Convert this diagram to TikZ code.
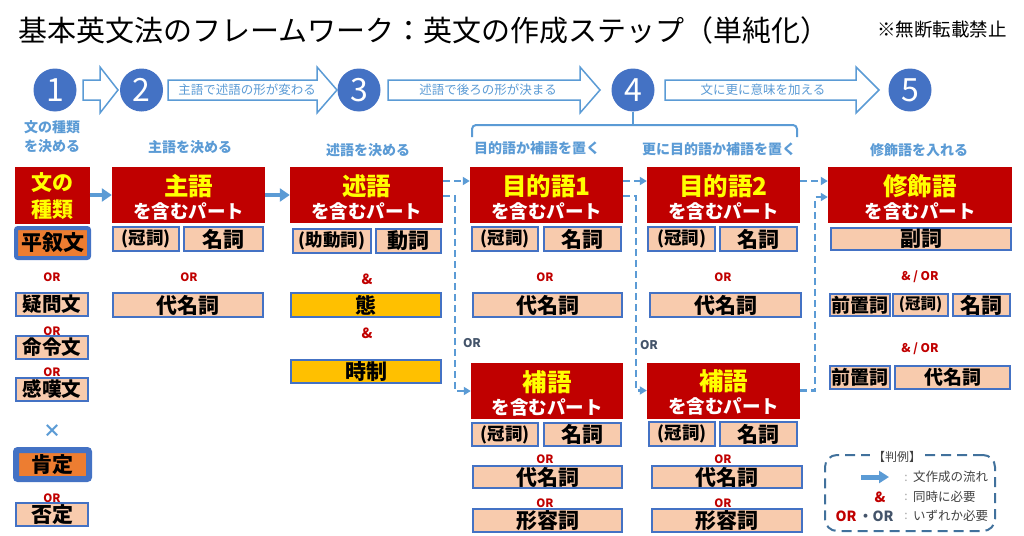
\documentclass[tikz,border=0pt]{standalone}
\usepackage{fontspec}
\setmainfont{Noto Sans CJK JP}
\usepackage{xcolor}
\usetikzlibrary{arrows.meta,calc}

\definecolor{hdred}{HTML}{C00000}
\definecolor{hdyellow}{HTML}{FFFF00}
\definecolor{peach}{HTML}{F8CBAD}
\definecolor{boxblue}{HTML}{4472C4}
\definecolor{lineblue}{HTML}{5B9BD5}
\definecolor{selorange}{HTML}{ED7D31}
\definecolor{gold}{HTML}{FFC000}
\definecolor{slate}{HTML}{44546A}
\definecolor{legblue}{HTML}{41719C}
\definecolor{legtext}{HTML}{404040}

\tikzset{
  hdbox/.style={fill=hdred, inner sep=0pt},
  hdtitle/.style={text=hdyellow, inner sep=0pt, font=\bfseries\fontsize{24.5}{24.5}\selectfont},
  hdsub/.style={text=white, inner sep=0pt, font=\bfseries\fontsize{18.5}{18.5}\selectfont},
  part/.style={fill=peach, draw=boxblue, line width=1.8pt, inner sep=0pt, font=\bfseries\fontsize{21}{21}\selectfont},
  artpart/.style={part, font=\bfseries\fontsize{17.5}{17.5}\selectfont},
  voice/.style={part, fill=gold},
  chosen/.style={part, fill=selorange, line width=4pt, rounded corners=2pt},
  orlbl/.style={text=hdred, inner sep=0pt, font=\bfseries\fontsize{11.5}{11.5}\selectfont},
  orgrey/.style={text=slate, inner sep=0pt, font=\bfseries\fontsize{12}{12}\selectfont},
  steplbl/.style={text=lineblue, inner sep=0pt, align=center, font=\bfseries\fontsize{14}{19}\selectfont},
  stepnum/.style={circle, fill=boxblue, text=white, inner sep=0pt, minimum size=43pt, font=\fontsize{32}{32}\selectfont},
  stepflow/.style={draw=lineblue, fill=white, line width=1.5pt, line join=miter},
  flowtxt/.style={text=lineblue, inner sep=0pt, font=\fontsize{12.5}{12.5}\selectfont},
  flow/.style={draw=lineblue, line width=4pt, -{Triangle[length=10pt,width=13pt]}},
  optflow/.style={draw=lineblue, line width=2.4pt, dash pattern=on 7pt off 4pt, -{Triangle[length=7pt,width=8pt]}},
  legtxt/.style={text=legtext, inner sep=0pt, anchor=west, font=\fontsize{12.5}{12.5}\selectfont},
  legcolon/.style={text=gray!70, inner sep=0pt, font=\fontsize{12}{12}\selectfont}
}

\begin{document}
\begin{tikzpicture}[x=1pt,y=-1pt]
\useasboundingbox (0,0) rectangle (1024,535);

% title
\node[anchor=west, inner sep=0pt, font=\fontsize{29}{29}\selectfont] (title) at (18,30) {基本英文法のフレームワーク：英文の作成ステップ（単純化）};
\node[inner sep=0pt, font=\fontsize{18.5}{18.5}\selectfont] (note) at (942,30) {※無断転載禁止};

% steps
\node[stepnum] (n1) at (55,90) {1};
\node[stepnum] (n2) at (141.5,90) {2};
\node[stepnum] (n3) at (359,90) {3};
\node[stepnum] (n4) at (633,90) {4};
\node[stepnum] (n5) at (910,90) {5};

\draw[stepflow] (83,80) -- (100,80) -- (100,67) -- (118,90) -- (100,113) -- (100,100) -- (83,100) -- cycle;
\draw[stepflow] (168,80) -- (317,80) -- (317,67) -- (337,90) -- (317,113) -- (317,100) -- (168,100) -- cycle;
\draw[stepflow] (388,80) -- (580,80) -- (580,67) -- (600,90) -- (580,113) -- (580,100) -- (388,100) -- cycle;
\draw[stepflow] (665,80) -- (856,80) -- (856,67) -- (879,90) -- (856,113) -- (856,100) -- (665,100) -- cycle;
\node[flowtxt] (f23) at (247,90) {主語で述語の形が変わる};
\node[flowtxt] (f34) at (488,90) {述語で後ろの形が決まる};
\node[flowtxt] (f45) at (763,90) {文に更に意味を加える};

% bracket under 4
\draw[lineblue, line width=2pt, rounded corners=4pt] (472,137) -- (472,125) -- (797,125) -- (797,137);
\draw[lineblue, line width=2pt] (n4.south) -- (n4.south |- 0,125);

% step labels
\node[steplbl] (l1) at (52,137) {文の種類\\を決める};
\node[steplbl] (l2) at (190,147) {主語を決める};
\node[steplbl] (l3) at (368,150) {述語を決める};
\node[steplbl] (l4) at (537,148) {目的語か補語を置く};
\node[steplbl] (l4b) at (719,149) {更に目的語か補語を置く};
\node[steplbl] (l5) at (919,150) {修飾語を入れる};

% red headers
\node[hdbox, minimum width=75pt, minimum height=57pt] (type) at (52,195) {};
\node[hdtitle, font=\bfseries\fontsize{21}{21}\selectfont] (type-t) at ([yshift=12pt]type.center) {文の};
\node[hdtitle, font=\bfseries\fontsize{21}{21}\selectfont] (type-s) at ([yshift=-15pt]type.center) {種類};
\foreach \nm/\cx/\cy/\w/\lbl in {subj/188.5/195/153/主語, pred/366.5/195/153/述語, obj1/546.5/195/153/目的語1, obj2/723.5/195/153/目的語2, comp1/547/391/152/補語, comp2/723.5/390.5/153/補語, mod/920/195/184/修飾語}{
  \node[hdbox, minimum width=\w, minimum height=56pt] (\nm) at (\cx,\cy) {};
  \node[hdtitle] (\nm-t) at ([yshift=9pt]\nm.center) {\lbl};
  \node[hdsub] (\nm-s) at ([yshift=-16pt]\nm.center) {を含むパート};
}

% sentence type
\node[chosen, minimum width=73pt, minimum height=30pt] (plain) at (52.5,243) {平叙文};
\node[orlbl] (or1) at (52,277) {OR};
\node[part, minimum width=72pt, minimum height=23pt, font=\bfseries\fontsize{19.5}{19.5}\selectfont] (quest) at (52,304.5) {疑問文};
\node[orlbl] (or2) at (52,331) {OR};
\node[part, minimum width=72pt, minimum height=23pt, font=\bfseries\fontsize{19.5}{19.5}\selectfont] (imper) at (52,347.5) {命令文};
\node[orlbl] (or3) at (52,372) {OR};
\node[part, minimum width=72pt, minimum height=23pt, font=\bfseries\fontsize{19.5}{19.5}\selectfont] (excl) at (52,389.5) {感嘆文};
\node[text=lineblue, inner sep=0pt, font=\bfseries\fontsize{18}{18}\selectfont] (cross) at (52,431) {×};
\node[chosen, line width=6pt, minimum width=73pt, minimum height=29pt] (affirm) at (52.5,464.5) {肯定};
\node[orlbl] (or4) at (52,498) {OR};
\node[part, minimum width=72pt, minimum height=23pt] (neg) at (52,514.5) {否定};

% subject
\node[artpart, minimum width=66pt, minimum height=24pt] (subj-a) at (146,239) {(冠詞)};
\node[part, minimum width=79pt, minimum height=24pt] (subj-n) at (223.5,239) {名詞};
\node[orlbl] (or5) at (189,277) {OR};
\node[part, minimum width=150pt, minimum height=24pt] (subj-p) at (188,305) {代名詞};

% predicate
\node[artpart, minimum width=78pt, minimum height=24pt] (pred-a) at (332,241) {(助動詞)};
\node[part, minimum width=65pt, minimum height=24pt] (pred-v) at (408.5,241) {動詞};
\node[orlbl, font=\bfseries\fontsize{14}{14}\selectfont] (and1) at (367,279) {\&};
\node[voice, minimum width=150pt, minimum height=24pt] (pred-vc) at (366,305) {態};
\node[orlbl, font=\bfseries\fontsize{14}{14}\selectfont] (and2) at (367,333) {\&};
\node[voice, minimum width=150pt, minimum height=23pt] (pred-t) at (366,371.5) {時制};

% objects
\node[artpart, minimum width=66pt, minimum height=24pt] (obj1-a) at (505,239) {(冠詞)};
\node[part, minimum width=77pt, minimum height=24pt] (obj1-n) at (582.5,239) {名詞};
\node[orlbl] (or6) at (545,277) {OR};
\node[part, minimum width=149pt, minimum height=24pt] (obj1-p) at (547.5,305) {代名詞};
\node[artpart, minimum width=67pt, minimum height=24pt] (obj2-a) at (681.5,239) {(冠詞)};
\node[part, minimum width=77pt, minimum height=24pt] (obj2-n) at (758.5,239) {名詞};
\node[orlbl] (or7) at (723,277) {OR};
\node[part, minimum width=151pt, minimum height=24pt] (obj2-p) at (725.5,305) {代名詞};

% complements
\node[artpart, minimum width=66pt, minimum height=23pt] (comp1-a) at (505,434.5) {(冠詞)};
\node[part, minimum width=77pt, minimum height=23pt] (comp1-n) at (582.5,434.5) {名詞};
\node[orlbl] (or8) at (545,459) {OR};
\node[part, minimum width=149pt, minimum height=22pt] (comp1-p) at (547.5,477) {代名詞};
\node[orlbl] (or9) at (545,503) {OR};
\node[part, minimum width=149pt, minimum height=23pt] (comp1-j) at (547.5,520.5) {形容詞};
\node[artpart, minimum width=66pt, minimum height=24pt] (comp2-a) at (682,434) {(冠詞)};
\node[part, minimum width=77pt, minimum height=24pt] (comp2-n) at (758.5,434) {名詞};
\node[orlbl] (or10) at (723,459) {OR};
\node[part, minimum width=150pt, minimum height=22pt] (comp2-p) at (727,477) {代名詞};
\node[orlbl] (or11) at (723,503) {OR};
\node[part, minimum width=150pt, minimum height=23pt] (comp2-j) at (727,520.5) {形容詞};

% modifiers
\node[part, minimum width=180pt, minimum height=22pt] (mod-d) at (921,239) {副詞};
\node[orlbl, font=\bfseries\fontsize{12}{12}\selectfont] (andor1) at (920,277) {\& / OR};
\node[part, minimum width=60pt, minimum height=22pt, font=\bfseries\fontsize{19}{19}\selectfont] (mod-pr) at (860,305) {前置詞};
\node[artpart, minimum width=55pt, minimum height=22pt, font=\bfseries\fontsize{15.5}{15.5}\selectfont] (mod-a) at (920.5,305) {(冠詞)};
\node[part, minimum width=57pt, minimum height=22pt] (mod-n) at (981.5,305) {名詞};
\node[orlbl, font=\bfseries\fontsize{12}{12}\selectfont] (andor2) at (920,349) {\& / OR};
\node[part, minimum width=60pt, minimum height=23pt, font=\bfseries\fontsize{19}{19}\selectfont] (mod-pr2) at (860,377.5) {前置詞};
\node[part, minimum width=115pt, minimum height=23pt, font=\bfseries\fontsize{19}{19}\selectfont] (mod-p) at (952.5,377.5) {代名詞};

% flow between parts
\draw[flow] (type.east) -- (subj.west);
\draw[flow] (subj.east) -- (pred.west);
\draw[optflow] ([yshift=14pt]pred.east) -- ([yshift=14pt]obj1.west);
\draw[optflow] ([yshift=-1pt]pred.east) -- ++(12,0) |- (comp1.west);
\draw[optflow] ([yshift=14pt]obj1.east) -- ([yshift=14pt]obj2.west);
\draw[optflow] ([yshift=-1pt]obj1.east) -- ++(13,0) |- (comp2.west);
\draw[optflow] ([yshift=14pt]obj2.east) -- ([yshift=14pt]mod.west);
\draw[optflow] (comp2.east) -- ++(15,0) |- ([yshift=-2pt]mod.west);
\node[orgrey] (or12) at (472,343) {OR};
\node[orgrey] (or13) at (649,345) {OR};

% legend
\node[draw=legblue, line width=2pt, dash pattern=on 10pt off 6pt, rounded corners=12pt, minimum width=170pt, minimum height=76pt, inner sep=0pt] (legend) at (910,493) {};
\node[fill=white, inner xsep=3pt, inner ysep=1pt, text=legtext, font=\fontsize{12}{12}\selectfont] (legend-t) at (897,457) {【判例】};
\coordinate (lga) at (861,477);
\coordinate (lgb) at (889,477);
\draw[flow, line width=5pt, -{Triangle[length=10pt,width=12pt]}] (lga) -- (lgb);
\node[orlbl, font=\bfseries\fontsize{14}{14}\selectfont] (legand) at (880,497) {\&};
\node[orlbl, font=\bfseries\fontsize{14}{14}\selectfont] (legor) at (846,516) {OR};
\node[orgrey, font=\bfseries\fontsize{14}{14}\selectfont] (legor2) at (876,516) {・OR};
\node[legcolon] (c1) at (906,478) {:};
\node[legcolon] (c2) at (906,497) {:};
\node[legcolon] (c3) at (906,516) {:};
\node[legtxt] (t1) at (913,477) {文作成の流れ};
\node[legtxt] (t2) at (913,497) {同時に必要};
\node[legtxt] (t3) at (913,516) {いずれか必要};
\end{tikzpicture}
\end{document}
